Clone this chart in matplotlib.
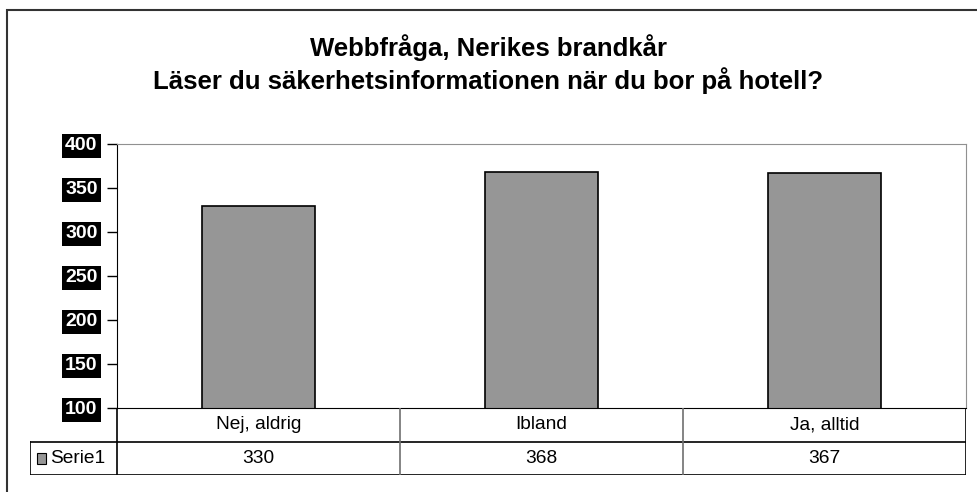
import numpy as np
import matplotlib
matplotlib.use("Agg")
import matplotlib.pyplot as plt
from matplotlib.patches import Rectangle

plt.rcParams['font.family'] = ['Liberation Sans', 'DejaVu Sans']

# data
categories = ["Nej, aldrig", "Ibland", "Ja, alltid"]
values = [330, 368, 367]
series_name = "Serie1"
yticks = [100, 150, 200, 250, 300, 350, 400]
title_lines = ["Webbfråga, Nerikes brandkår",
               "Läser du säkerhetsinformationen när du bor på hotell?"]

W, H = 977, 492
fig = plt.figure(figsize=(W / 100, H / 100), dpi=100)

def px_axes(x0, y0, x1, y1):
    # pixel box (top-left origin) -> figure axes
    return fig.add_axes([x0 / W, 1 - y1 / H, (x1 - x0) / W, (y1 - y0) / H])

# outer chart frame (only top/left visible, rest cropped)
fig.add_artist(Rectangle((7 / W, -0.1), 1.2, 1 - 10 / H + 0.1,
                         transform=fig.transFigure, fill=False,
                         edgecolor="#333333", linewidth=1.5))

fig.text(0.5, 1 - 48 / H, title_lines[0], ha="center", va="center",
         fontsize=18.5, fontweight="bold")
fig.text(0.5, 1 - 81 / H, title_lines[1], ha="center", va="center",
         fontsize=18.5, fontweight="bold")

# plot area
ax = px_axes(117, 144, 966, 408)
x = np.arange(len(categories))
ax.bar(x, values, width=0.4, color="#969696", edgecolor="black", linewidth=1.2)
ax.set_xlim(-0.5, len(categories) - 0.5)
ax.set_ylim(yticks[0], yticks[-1])
ax.set_yticks(yticks)
ax.set_xticks([])
for s in ["top", "right"]:
    ax.spines[s].set_color("#909090")
ax.spines["left"].set_color("black")
ax.spines["bottom"].set_color("black")
ax.tick_params(axis="y", length=7, width=1, pad=7)
for lab in ax.get_yticklabels():
    lab.set_fontsize(14)
    lab.set_fontweight("bold")
    lab.set_color("white")
    lab.set_bbox(dict(facecolor="black", edgecolor="none", pad=2.5))

# data table below the plot
cell_w = (966 - 117) / len(categories)
extra = (117 - 30) / cell_w
tax = px_axes(30, 408, 966, 475)
tax.set_xlim(-0.5 - extra, len(categories) - 0.5)
tax.set_ylim(0, 2)
tax.axis("off")
lk = dict(color="black", linewidth=1.2)
tax.plot([-0.5, len(categories) - 0.5], [2, 2], **lk)
tax.plot([-0.5 - extra, len(categories) - 0.5], [1, 1], **lk)
tax.plot([-0.5 - extra, len(categories) - 0.5], [0, 0], **lk)
tax.plot([-0.5 - extra, -0.5 - extra], [0, 1], **lk)
for b in np.arange(len(categories) + 1) - 0.5:
    edge = b in (-0.5, len(categories) - 0.5)
    tax.plot([b, b], [0, 2], color="black" if edge else "#707070", linewidth=1.2)
for i, (c, v) in enumerate(zip(categories, values)):
    tax.text(i, 1.5, c, ha="center", va="center", fontsize=13.8)
    tax.text(i, 0.5, str(v), ha="center", va="center", fontsize=13.8)
tax.add_patch(Rectangle((-0.5 - extra + 0.025, 0.33), 0.033, 0.32,
                        facecolor="#969696", edgecolor="black", linewidth=0.8))
tax.text(-0.5 - extra + 0.072, 0.5, series_name, ha="left", va="center",
         fontsize=13.8)

fig.savefig("out.png", dpi=100)
